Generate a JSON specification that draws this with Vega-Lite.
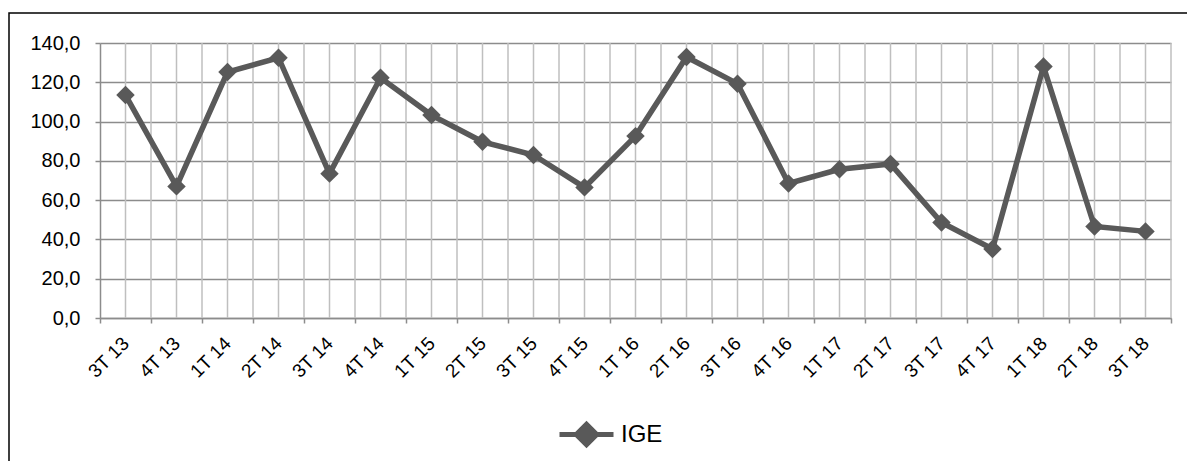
{
  "$schema": "https://vega.github.io/schema/vega-lite/v6.json",
  "width": 1180,
  "height": 450,
  "autosize": {"type": "none"},
  "padding": {"left": 9, "top": 13, "right": 0, "bottom": 0},
  "background": "white",
  "config": {
    "view": {"stroke": "#000000", "strokeWidth": 1.5},
    "font": "Liberation Sans"
  },
  "data": {
    "values": [
      {"q": "3T 13", "v": 113.5, "s": "IGE"},
      {"q": "4T 13", "v": 67.0, "s": "IGE"},
      {"q": "1T 14", "v": 125.2, "s": "IGE"},
      {"q": "2T 14", "v": 132.5, "s": "IGE"},
      {"q": "3T 14", "v": 73.5, "s": "IGE"},
      {"q": "4T 14", "v": 122.3, "s": "IGE"},
      {"q": "1T 15", "v": 103.3, "s": "IGE"},
      {"q": "2T 15", "v": 89.7, "s": "IGE"},
      {"q": "3T 15", "v": 83.0, "s": "IGE"},
      {"q": "4T 15", "v": 66.5, "s": "IGE"},
      {"q": "1T 16", "v": 92.6, "s": "IGE"},
      {"q": "2T 16", "v": 132.9, "s": "IGE"},
      {"q": "3T 16", "v": 119.3, "s": "IGE"},
      {"q": "4T 16", "v": 68.5, "s": "IGE"},
      {"q": "1T 17", "v": 75.7, "s": "IGE"},
      {"q": "2T 17", "v": 78.4, "s": "IGE"},
      {"q": "3T 17", "v": 48.6, "s": "IGE"},
      {"q": "4T 17", "v": 35.1, "s": "IGE"},
      {"q": "1T 18", "v": 128.0, "s": "IGE"},
      {"q": "2T 18", "v": 46.6, "s": "IGE"},
      {"q": "3T 18", "v": 44.1, "s": "IGE"}
    ]
  },
  "encoding": {
    "x": {
      "field": "q",
      "type": "nominal",
      "sort": null,
      "scale": {"type": "band", "range": [91, 1162], "paddingInner": 0, "paddingOuter": 0},
      "axis": {
        "title": null,
        "orient": "bottom",
        "offset": -145,
        "tickBand": "extent",
        "grid": false,
        "domainColor": "#8c8c8c",
        "domainWidth": 1.5,
        "tickColor": "#8c8c8c",
        "tickWidth": 1.5,
        "tickSize": 5,
        "labelAngle": -45,
        "labelAlign": "right",
        "labelBaseline": "middle",
        "labelFontSize": 19,
        "labelColor": "#000000",
        "labelPadding": 17
      }
    }
  },
  "layer": [
    {
      "mark": {"type": "rule", "color": "#bfbfbf", "strokeWidth": 1.5},
      "encoding": {
        "y": {"datum": 0, "type": "quantitative"},
        "y2": {"datum": 140}
      }
    },
    {
      "mark": {"type": "rule", "color": "#bfbfbf", "strokeWidth": 1.5},
      "encoding": {
        "x": {"field": "q", "type": "nominal", "sort": null, "bandPosition": 1},
        "y": {"datum": 0, "type": "quantitative"},
        "y2": {"datum": 140}
      }
    },
    {
      "mark": {
        "type": "line",
        "strokeWidth": 5.5,
        "point": {"shape": "diamond", "size": 340, "filled": true, "opacity": 1}
      },
      "encoding": {
        "y": {
          "field": "v",
          "type": "quantitative",
          "scale": {"domain": [0, 140], "range": [305, 30], "nice": false, "zero": false},
          "axis": {
            "title": null,
            "orient": "left",
            "offset": -91,
            "values": [0, 20, 40, 60, 80, 100, 120, 140],
            "labelExpr": "replace(format(datum.value, '.1f'), '.', ',')",
            "grid": true,
            "gridColor": "#8c8c8c",
            "gridWidth": 1.5,
            "domainColor": "#8c8c8c",
            "domainWidth": 1.5,
            "tickColor": "#8c8c8c",
            "tickWidth": 1.5,
            "tickSize": 5,
            "labelPadding": 15,
            "labelFontSize": 20,
            "labelColor": "#000000"
          }
        },
        "color": {
          "field": "s",
          "type": "nominal",
          "scale": {"range": ["#595959"]},
          "legend": {
            "title": null,
            "orient": "none",
            "legendX": 548,
            "legendY": 392,
            "padding": 0,
            "symbolType": "M-1,0L1,0M-0.38,0L0,-0.38L0.38,0L0,0.38Z",
            "symbolSize": 2916,
            "symbolStrokeWidth": 5,
            "symbolFillColor": "#595959",
            "symbolStrokeColor": "#595959",
            "labelFontSize": 24,
            "labelColor": "#000000",
            "labelOffset": 5
          }
        }
      }
    }
  ]
}
